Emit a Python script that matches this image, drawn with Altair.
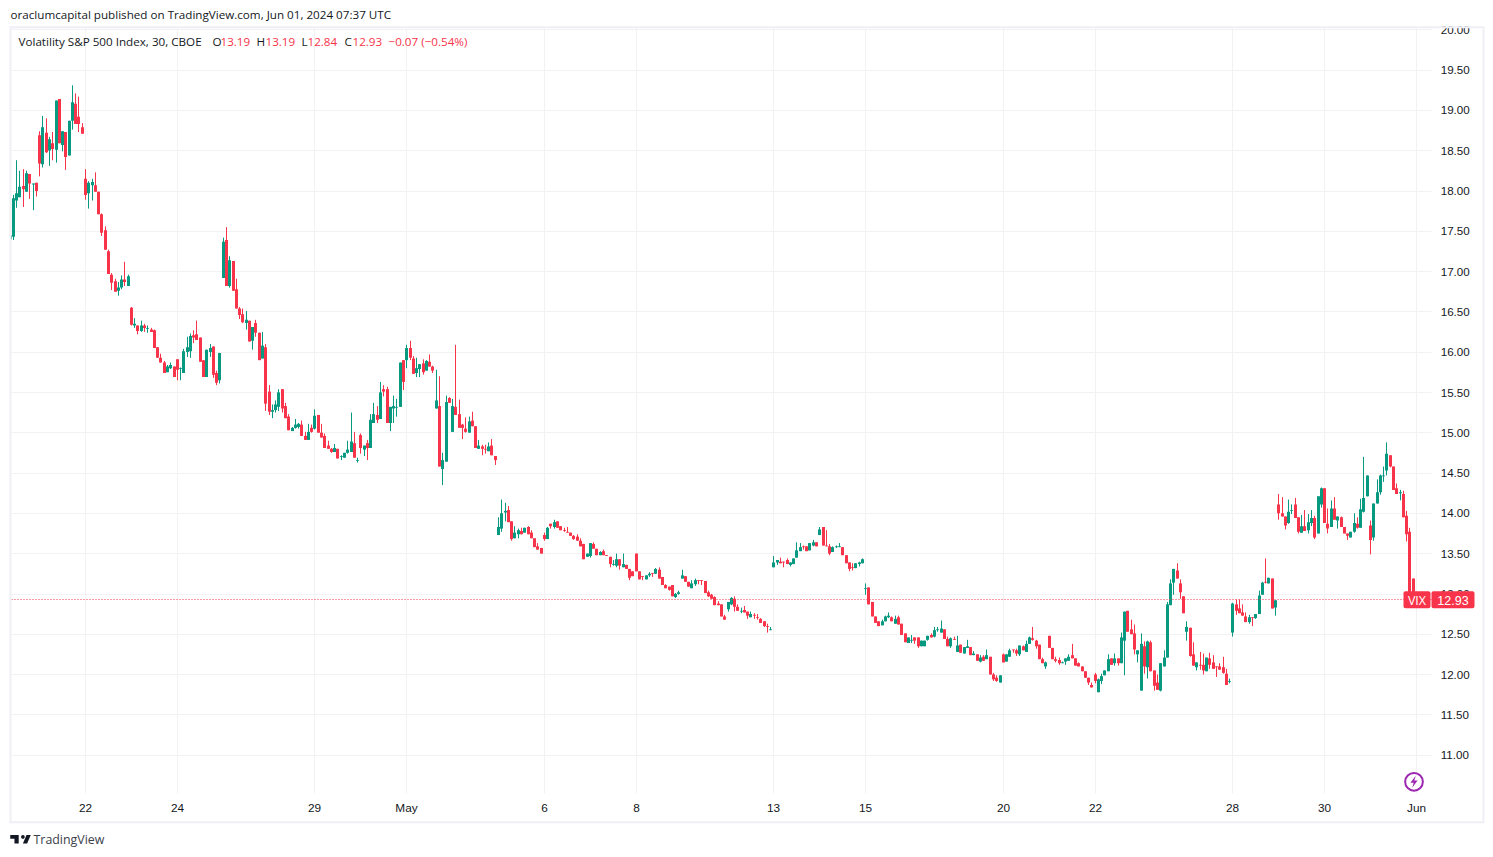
import altair as alt
import pandas as pd

RED = "#f7344a"
GREEN = "#089981"
GRID = "#f2f2f5"
FRAME = "#eff0f5"
TEXT = "#131722"
UI = "Open Sans"
NUM = "Liberation Sans"

# open, high, low, close of each 30-minute bar, one list per session
apr19 = [(17.40,17.53,17.31,17.45),(17.43,17.95,17.39,17.91),(17.88,18.38,17.79,17.97),(17.92,18.25,17.92,18.05),
(18.06,18.27,17.80,18.02),(17.99,18.25,17.99,18.22),(18.21,18.21,17.90,18.09),(18.08,18.09,17.76,18.09),
(18.10,18.10,17.93,18.00),(18.69,18.74,18.18,18.34),(18.33,18.93,18.29,18.79),(18.72,18.90,18.47,18.48),
(18.50,18.67,18.31,18.64),(18.59,18.73,18.38,18.52),(18.51,19.12,18.35,19.12),(19.14,19.14,18.59,18.59),
(18.57,18.74,18.49,18.74),(18.73,18.73,18.26,18.42),(18.44,18.87,18.44,18.87),(18.87,19.31,18.76,19.10),
(19.08,19.21,18.83,18.83),(18.92,19.17,18.73,18.83),(18.79,18.84,18.71,18.71)]
apr22 = [(18.15,18.27,17.89,17.95),(17.97,18.12,17.78,18.10),(18.07,18.15,17.88,18.11),(18.07,18.23,17.99,17.99),
(17.99,17.99,17.71,17.71),(17.71,17.72,17.44,17.48),(17.51,17.56,17.27,17.27),(17.25,17.27,16.97,16.97),
(16.96,16.98,16.77,16.86),(16.88,16.91,16.75,16.75),(16.76,16.87,16.70,16.80),(16.80,16.95,16.78,16.90),
(16.90,17.12,16.82,16.87),(16.82,16.96,16.82,16.94)]
apr23 = [(16.55,16.56,16.33,16.34),(16.33,16.42,16.30,16.35),(16.33,16.33,16.22,16.26),(16.26,16.39,16.25,16.33),
(16.33,16.35,16.25,16.30),(16.29,16.33,16.24,16.30),(16.28,16.30,16.25,16.25),(16.27,16.28,16.05,16.05),
(16.06,16.06,15.93,15.93),(15.93,15.98,15.87,15.87),(15.87,15.89,15.74,15.74),(15.75,15.84,15.75,15.82),
(15.80,15.87,15.79,15.84),(15.82,15.82,15.69,15.69)]
apr24 = [(15.91,15.91,15.65,15.78),(15.79,15.81,15.65,15.80),(15.74,16.04,15.74,16.01),(16.00,16.19,15.94,16.06),
(16.01,16.23,15.93,16.20),(16.21,16.27,16.11,16.18),(16.22,16.39,16.15,16.15),(16.18,16.18,15.88,15.88),
(15.90,15.90,15.69,15.69),(15.69,16.03,15.69,16.03),(16.00,16.10,15.94,16.05),(16.07,16.07,15.68,15.72),
(15.74,15.77,15.59,15.62),(15.65,15.99,15.61,15.99)]
apr25 = [(16.92,17.42,16.92,17.37),(17.39,17.55,16.82,16.82),(16.82,17.19,16.80,17.14),(17.13,17.13,16.76,16.76),
(16.78,16.91,16.54,16.54),(16.54,16.56,16.41,16.46),(16.47,16.54,16.36,16.37),(16.36,16.51,16.28,16.40),
(16.39,16.39,16.13,16.13),(16.14,16.31,16.03,16.31),(16.36,16.40,16.19,16.24),(16.24,16.24,15.90,15.90),
(15.92,16.25,15.92,16.08),(16.06,16.10,15.27,15.36)]
apr26 = [(15.51,15.59,15.22,15.26),(15.26,15.35,15.18,15.28),(15.28,15.40,15.25,15.35),(15.32,15.54,15.27,15.50),
(15.54,15.54,15.25,15.30),(15.33,15.37,15.18,15.18),(15.20,15.23,15.03,15.03),(15.02,15.07,15.02,15.06),
(15.06,15.17,15.05,15.10),(15.07,15.12,15.05,15.11),(15.10,15.15,14.96,14.96),(14.96,15.01,14.91,14.91),
(14.91,15.11,14.91,15.01),(15.06,15.10,15.00,15.01)]
apr29 = [(15.05,15.29,15.04,15.21),(15.22,15.22,15.00,15.00),(15.00,15.11,14.94,14.94),(14.96,14.99,14.81,14.81),
(14.84,14.90,14.80,14.80),(14.80,14.81,14.75,14.76),(14.76,14.86,14.76,14.81),(14.80,14.80,14.68,14.68),
(14.70,14.72,14.66,14.71),(14.69,14.75,14.69,14.75),(14.75,14.90,14.74,14.79),(14.76,15.25,14.76,14.89),
(14.87,15.01,14.69,14.69),(14.65,14.69,14.63,14.66)]
apr30 = [(14.97,14.99,14.74,14.81),(14.79,14.84,14.71,14.84),(14.87,14.91,14.66,14.81),(14.81,15.23,14.81,15.16),
(15.12,15.37,15.12,15.23),(15.22,15.33,15.12,15.16),(15.17,15.63,15.17,15.50),(15.54,15.59,15.45,15.51),
(15.54,15.57,15.12,15.12),(15.12,15.32,15.02,15.32),(15.30,15.46,15.12,15.33),(15.31,15.42,15.20,15.32),
(15.32,15.87,15.32,15.87),(15.90,15.90,15.53,15.63)]
may01 = [(15.90,16.09,15.80,16.05),(16.05,16.14,15.90,15.93),(15.92,15.95,15.73,15.73),(15.74,15.93,15.69,15.80),
(15.79,15.85,15.69,15.85),(15.86,15.91,15.72,15.75),(15.77,15.90,15.77,15.89),(15.88,15.97,15.82,15.82),
(15.82,15.83,15.74,15.77),(15.30,15.78,15.30,15.40),(15.33,15.70,14.58,14.58),(14.55,14.75,14.35,14.66),
(14.64,15.46,14.64,15.38),(15.43,15.44,15.37,15.37)]
may02 = [(15.01,15.42,15.01,15.33),(15.32,16.09,15.22,15.22),(15.23,15.41,15.06,15.06),(15.10,15.11,14.92,15.06),
(15.05,15.19,15.00,15.01),(15.00,15.20,15.00,15.14),(15.15,15.26,15.08,15.08),(15.08,15.08,14.81,14.81),
(14.80,14.91,14.80,14.84),(14.83,14.85,14.72,14.80),(14.80,14.85,14.74,14.79),(14.77,14.88,14.77,14.83),
(14.84,14.92,14.72,14.72),(14.71,14.71,14.60,14.66)]
may03 = [(13.73,13.95,13.73,13.83),(13.81,14.17,13.77,14.00),(14.01,14.13,13.90,14.03),(14.04,14.09,13.89,13.89),
(13.90,13.90,13.66,13.68),(13.69,13.84,13.69,13.76),(13.74,13.81,13.69,13.79),(13.78,13.82,13.74,13.74),
(13.76,13.82,13.76,13.82),(13.83,13.84,13.74,13.74),(13.76,13.79,13.69,13.69),(13.69,13.69,13.58,13.58),
(13.59,13.63,13.55,13.55),(13.57,13.57,13.50,13.50)]
may06 = [(13.73,13.76,13.66,13.68),(13.68,13.83,13.68,13.82),(13.87,13.87,13.81,13.84),(13.83,13.92,13.81,13.89),
(13.90,13.90,13.82,13.82),(13.84,13.84,13.79,13.79),(13.79,13.82,13.77,13.78),(13.77,13.83,13.76,13.76),
(13.76,13.76,13.72,13.72),(13.72,13.73,13.67,13.68),(13.71,13.74,13.66,13.66),(13.66,13.69,13.59,13.59),
(13.62,13.62,13.43,13.43),(13.46,13.50,13.46,13.50)]
may07 = [(13.47,13.63,13.45,13.63),(13.62,13.64,13.56,13.56),(13.56,13.56,13.48,13.48),(13.48,13.53,13.48,13.52),
(13.53,13.55,13.48,13.48),(13.48,13.48,13.47,13.47),(13.46,13.46,13.33,13.37),(13.36,13.42,13.35,13.37),
(13.35,13.50,13.33,13.43),(13.43,13.43,13.30,13.35),(13.33,13.50,13.33,13.37),(13.36,13.36,13.31,13.31),
(13.31,13.31,13.17,13.20),(13.28,13.28,13.22,13.22)]
may08 = [(13.50,13.50,13.28,13.28),(13.28,13.28,13.18,13.18),(13.22,13.22,13.17,13.21),(13.18,13.23,13.18,13.23),
(13.23,13.27,13.21,13.25),(13.26,13.26,13.21,13.25),(13.25,13.32,13.25,13.31),(13.30,13.33,13.19,13.19),
(13.21,13.21,13.11,13.11),(13.11,13.12,13.07,13.07),(13.09,13.09,13.04,13.05),(13.11,13.11,12.97,12.97),
(12.96,13.01,12.95,13.00),(13.00,13.04,12.99,13.02)]
may09 = [(13.19,13.30,13.19,13.23),(13.22,13.22,13.15,13.15),(13.15,13.15,13.09,13.09),(13.07,13.17,13.07,13.13),
(13.12,13.19,13.10,13.17),(13.17,13.17,13.12,13.16),(13.17,13.17,13.11,13.16),(13.16,13.16,13.01,13.01),
(13.02,13.04,12.96,12.97),(12.99,13.00,12.94,12.94),(12.96,12.97,12.86,12.86),(12.88,12.91,12.86,12.86),
(12.87,12.87,12.72,12.72),(12.72,12.74,12.68,12.68)]
may10 = [(12.81,12.90,12.78,12.90),(12.87,12.96,12.86,12.95),(12.94,12.97,12.78,12.84),(12.84,12.87,12.79,12.79),
(12.78,12.83,12.76,12.79),(12.80,12.85,12.77,12.77),(12.78,12.78,12.69,12.73),(12.71,12.78,12.71,12.75),
(12.74,12.76,12.69,12.73),(12.71,12.75,12.68,12.70),(12.69,12.70,12.64,12.64),(12.66,12.66,12.59,12.60),
(12.60,12.63,12.52,12.59),(12.55,12.59,12.55,12.56)]
may13 = [(13.33,13.47,13.33,13.39),(13.39,13.42,13.36,13.42),(13.40,13.45,13.38,13.38),(13.40,13.40,13.33,13.39),
(13.42,13.44,13.37,13.37),(13.36,13.39,13.34,13.39),(13.37,13.44,13.37,13.44),(13.45,13.64,13.45,13.54),
(13.53,13.63,13.53,13.58),(13.59,13.60,13.55,13.58),(13.59,13.59,13.53,13.53),(13.54,13.63,13.54,13.63),
(13.60,13.67,13.59,13.64),(13.64,13.64,13.59,13.59)]
may14 = [(13.73,13.83,13.73,13.80),(13.83,13.83,13.60,13.60),(13.60,13.79,13.59,13.59),(13.59,13.62,13.48,13.50),
(13.52,13.59,13.52,13.58),(13.58,13.60,13.57,13.59),(13.58,13.63,13.58,13.59),(13.58,13.58,13.48,13.48),
(13.48,13.48,13.38,13.38),(13.39,13.39,13.28,13.31),(13.33,13.38,13.29,13.32),(13.32,13.38,13.32,13.38),
(13.37,13.40,13.34,13.39),(13.38,13.44,13.38,13.43)]
may15 = [(13.06,13.13,12.99,13.07),(13.08,13.08,12.87,12.87),(12.90,12.90,12.72,12.72),(12.72,12.72,12.64,12.64),
(12.66,12.66,12.60,12.60),(12.61,12.68,12.61,12.66),(12.66,12.73,12.66,12.72),(12.71,12.77,12.70,12.73),
(12.71,12.72,12.66,12.66),(12.63,12.73,12.63,12.69),(12.71,12.73,12.62,12.62),(12.63,12.63,12.49,12.49),
(12.51,12.51,12.40,12.40),(12.39,12.46,12.39,12.46)]
may16 = [(12.42,12.49,12.39,12.43),(12.46,12.46,12.38,12.42),(12.46,12.46,12.33,12.35),(12.35,12.42,12.35,12.42),
(12.35,12.42,12.35,12.42),(12.43,12.48,12.42,12.48),(12.49,12.51,12.46,12.46),(12.47,12.59,12.46,12.55),
(12.55,12.59,12.53,12.56),(12.52,12.67,12.52,12.57),(12.56,12.56,12.44,12.44),(12.44,12.47,12.35,12.35),
(12.35,12.46,12.33,12.45),(12.44,12.47,12.43,12.43)]
may17 = [(12.28,12.48,12.28,12.36),(12.37,12.37,12.27,12.27),(12.26,12.34,12.26,12.34),(12.33,12.43,12.33,12.35),
(12.34,12.34,12.24,12.24),(12.24,12.29,12.24,12.26),(12.25,12.25,12.17,12.17),(12.16,12.24,12.15,12.21),
(12.22,12.24,12.17,12.17),(12.19,12.31,12.19,12.24),(12.22,12.22,12.00,12.00),(12.00,12.02,11.92,11.94),
(11.96,11.99,11.91,11.92),(11.90,11.99,11.90,11.99)]
may20 = [(12.25,12.26,12.15,12.15),(12.16,12.25,12.16,12.25),(12.22,12.32,12.22,12.30),(12.31,12.31,12.27,12.30),
(12.30,12.32,12.23,12.26),(12.25,12.36,12.23,12.36),(12.35,12.36,12.30,12.30),(12.28,12.42,12.28,12.38),
(12.38,12.47,12.38,12.46),(12.45,12.59,12.42,12.43),(12.42,12.43,12.32,12.35),(12.37,12.37,12.19,12.19),
(12.19,12.21,12.14,12.14),(12.10,12.16,12.07,12.15)]
may21 = [(12.48,12.48,12.33,12.33),(12.33,12.33,12.19,12.19),(12.19,12.22,12.15,12.17),(12.18,12.21,12.12,12.14),
(12.14,12.16,12.14,12.15),(12.16,12.20,12.12,12.20),(12.17,12.25,12.17,12.22),(12.24,12.38,12.20,12.20),
(12.20,12.20,12.11,12.11),(12.14,12.15,12.10,12.10),(12.10,12.10,12.04,12.04),(12.04,12.04,11.96,11.96),
(11.96,11.96,11.87,11.90),(11.87,11.90,11.84,11.84)]
may22 = [(12.00,12.02,11.89,11.92),(11.78,11.95,11.78,11.94),(11.92,12.01,11.88,11.98),(11.99,12.05,11.99,12.05),
(12.04,12.25,12.04,12.19),(12.20,12.20,12.12,12.12),(12.14,12.26,12.11,12.20),(12.20,12.20,12.11,12.14),
(12.14,12.52,12.14,12.46),(12.42,12.78,11.99,12.78),(12.79,12.79,12.53,12.53),(12.56,12.68,12.50,12.50),
(12.51,12.62,12.25,12.31),(12.25,12.30,12.15,12.30)]
may23 = [(11.80,12.51,11.80,12.38),(12.35,12.41,12.01,12.10),(12.09,12.42,11.95,12.41),(12.40,12.42,12.04,12.04),
(12.05,12.05,11.80,11.86),(11.90,12.00,11.81,11.81),(11.80,12.14,11.79,12.14),(12.10,12.30,12.10,12.21),
(12.21,12.90,12.21,12.87),(12.86,13.18,12.86,13.13),(13.14,13.31,12.99,13.31),(13.29,13.38,13.19,13.19),
(13.13,13.18,12.94,13.02),(12.97,12.97,12.76,12.76)]
may24 = [(12.53,12.66,12.42,12.59),(12.58,12.58,12.22,12.23),(12.25,12.40,12.11,12.11),(12.09,12.15,12.05,12.15),
(12.12,12.28,12.06,12.11),(12.12,12.26,12.00,12.05),(12.04,12.21,12.04,12.21),(12.20,12.27,12.07,12.12),
(12.15,12.24,12.07,12.07),(12.10,12.10,11.97,12.09),(12.10,12.14,12.06,12.06),(12.09,12.22,12.01,12.02),
(12.01,12.07,11.87,11.87),(11.91,11.95,11.89,11.92)]
may28 = [(12.52,12.89,12.47,12.88),(12.87,12.93,12.74,12.79),(12.82,12.93,12.76,12.76),(12.77,12.87,12.73,12.73),
(12.72,12.77,12.65,12.65),(12.65,12.74,12.63,12.71),(12.71,12.71,12.60,12.70),(12.70,12.75,12.69,12.75),
(12.75,13.04,12.75,12.98),(12.99,13.15,12.99,13.14),(13.15,13.44,13.13,13.14),(13.13,13.20,13.13,13.20),
(13.19,13.19,12.82,12.82),(12.83,12.92,12.73,12.92)]
may29 = [(14.11,14.24,13.92,14.00),(14.00,14.20,13.96,13.96),(13.96,13.96,13.80,13.85),(13.88,14.17,13.87,14.02),
(14.03,14.11,13.99,14.04),(14.11,14.19,13.94,13.94),(13.95,13.95,13.75,13.77),(13.76,13.98,13.76,13.84),
(13.84,14.04,13.78,13.78),(13.79,13.99,13.75,13.89),(13.88,14.04,13.84,13.94),(13.94,13.97,13.68,13.70),
(13.75,14.21,13.75,14.21),(14.11,14.32,14.07,14.31)]
may30 = [(14.31,14.31,13.88,13.88),(13.87,14.06,13.75,13.81),(13.83,14.16,13.83,14.06),(14.06,14.20,13.92,13.92),
(13.91,13.96,13.81,13.96),(13.95,13.96,13.83,13.83),(13.83,13.83,13.75,13.75),(13.75,13.75,13.67,13.72),
(13.70,13.77,13.70,13.77),(13.77,14.00,13.76,13.88),(13.87,13.95,13.81,13.82),(13.82,14.18,13.82,14.05),
(14.02,14.70,14.01,14.19),(14.21,14.47,14.21,14.47)]
may31 = [(13.85,13.91,13.49,13.67),(13.70,14.12,13.66,14.12),(14.12,14.42,14.12,14.26),(14.26,14.48,14.23,14.47),
(14.46,14.58,14.39,14.47),(14.53,14.88,14.47,14.74),(14.72,14.72,14.57,14.58),(14.58,14.58,14.29,14.29),
(14.31,14.37,14.24,14.24),(14.25,14.29,14.16,14.26),(14.24,14.28,13.95,13.95),(13.97,14.03,13.65,13.74),
(13.77,13.82,12.99,13.00),(13.19,13.19,12.84,12.93)]

sessions = [apr19, apr22, apr23, apr24, apr25, apr26, apr29, apr30, may01, may02, may03, may06, may07, may08, may09,
            may10, may13, may14, may15, may16, may17, may20, may21, may22, may23, may24, may28, may29, may30, may31]

time_ticks = [0, 28, 70, 98, 140, 168, 210, 238, 280, 308, 350, 378, 406]
time_labels = ["22", "24", "29", "May", "6", "8", "13", "15", "20", "22", "28", "30", "Jun"]
price_ticks = [11 + 0.5 * k for k in range(19)]
last_price = 12.93

bars = [b for s in sessions for b in s]
df = pd.DataFrame(bars, columns=["o", "h", "l", "c"])
df["i"] = range(-len(apr19), len(bars) - len(apr19))
df["color"] = [GREEN if c >= o else RED for o, c in zip(df.o, df.c)]

PX_L, PX_T, W, H = 10, 28, 1421, 765
X_SCALE = alt.Scale(domain=[-22.88, 410.6], round=True, nice=False, zero=False)
Y_SCALE = alt.Scale(domain=[10.526, 20.017], nice=False, zero=False)
one = pd.DataFrame({"a": [0]})

label_expr = "[" + ",".join(f"'{t}'" for t in time_labels) + "][indexof([" + ",".join(map(str, time_ticks)) + "], datum.value)]"

x_axis = alt.Axis(values=time_ticks, labelExpr=label_expr, title=None, grid=True, gridColor=GRID, gridWidth=1,
                  domain=False, ticks=False, labelFont=NUM, labelFontSize=11.8, labelColor=TEXT, translate=0,
                  labelPadding=10, labelOverlap=False, labelFlush=False, labelBound=False)
y_axis = alt.Axis(values=price_ticks, format=".2f", title=None, orient="right", grid=True, gridColor=GRID, gridWidth=1,
                  domain=False, ticks=False, labelFont=NUM, labelFontSize=11.6, labelColor=TEXT, translate=0.2,
                  labelPadding=9, labelOffset=1, labelOverlap=False, labelFlush=False, labelBound=False)

wicks = alt.Chart(df).mark_rule(strokeWidth=1, clip=True).encode(
    x=alt.X("i:Q", scale=X_SCALE, axis=x_axis),
    y=alt.Y("h:Q", scale=Y_SCALE, axis=y_axis),
    y2="l:Q",
    color=alt.Color("color:N", scale=None),
)
bodies = alt.Chart(df).mark_rule(strokeWidth=3, clip=True).encode(
    x=alt.X("i:Q", scale=X_SCALE, axis=x_axis),
    y=alt.Y("o:Q", scale=Y_SCALE, axis=y_axis),
    y2="c:Q",
    color=alt.Color("color:N", scale=None),
)
last_line = alt.Chart(pd.DataFrame({"p": [last_price]})).mark_rule(
    color=RED, strokeWidth=1, strokeDash=[1, 2]
).encode(y=alt.Y("p:Q", scale=Y_SCALE, axis=y_axis))


def px(x, y):
    return dict(x=alt.value(x - PX_L), y=alt.value(y - PX_T))


def label(text, x, y, color=TEXT, font=UI, size=11.65, align="left", weight="normal"):
    return alt.Chart(one).mark_text(
        text=text, color=color, font=font, fontSize=size, align=align, baseline="middle", fontWeight=weight
    ).encode(**px(x, y + 0.7))


def box(x1, x2, y1, y2, **kw):
    return alt.Chart(one).mark_rect(**kw).encode(
        x=alt.value(x1 - PX_L), x2=alt.value(x2 - PX_L), y=alt.value(y1 - PX_T), y2=alt.value(y2 - PX_T)
    )


cover = box(1420, 1484, 8, 26, fill="white")
frame = box(10, 1483, 27, 822, fill="transparent", stroke=FRAME, strokeWidth=2)
vix_tag = box(1403, 1430, 591, 608, fill=RED, cornerRadius=2)
price_tag = box(1431, 1474, 591, 608, fill=RED, cornerRadius=2)

BOLT = "M0.3 -1 L-0.6 0.15 L-0.05 0.15 L-0.3 1 L0.6 -0.2 L0.05 -0.2 Z"
LOGO = ("M-0.176 -0.412 L-1 -0.412 L-1 -0.059 L-0.588 -0.059 L-0.588 0.412 L-0.176 0.412 Z "
        "M0.647 0.412 L0.235 0.412 L0.588 -0.412 L1 -0.412 Z "
        "M0.235 -0.059 A0.176 0.176 0 1 0 0.235 -0.412 A0.176 0.176 0 1 0 0.235 -0.059 Z")
ring = alt.Chart(one).mark_point(shape="circle", size=314, stroke="#9c27b0", strokeWidth=2, fill="white", filled=True, opacity=1).encode(**px(1413.5, 781.5))
bolt = alt.Chart(one).mark_point(shape=BOLT, size=144, fill="#9c27b0", strokeWidth=0, filled=True, opacity=1).encode(**px(1413.5, 781.5))
logo = alt.Chart(one).mark_point(shape=LOGO, size=420, fill="#131722", strokeWidth=0, filled=True, opacity=1).encode(**px(20, 839))

layers = [
    wicks, bodies, last_line, cover, frame, vix_tag, price_tag, ring, bolt, logo,
    label("VIX", 1416.5, 600, color="white", align="center", size=12.5),
    label(f"{last_price:.2f}", 1452.5, 600, color="white", align="center", font=NUM, size=12.5),
    label("oraclumcapital published on TradingView.com, Jun 01, 2024 07:37 UTC", 10, 15),
    label("Volatility S&P 500 Index, 30, CBOE", 18, 42),
    label("O", 212, 42), label("13.19", 220, 42, color=RED),
    label("H", 256, 42), label("13.19", 265, 42, color=RED),
    label("L", 301, 42), label("12.84", 307, 42, color=RED),
    label("C", 344, 42), label("12.93", 352, 42, color=RED),
    label("\u22120.07 (\u22120.54%)", 388, 42, color=RED),
    label("TradingView", 33, 839, color="#3a3e4a", size=12.4),
]

chart = alt.layer(*layers).properties(
    width=W, height=H,
    padding={"left": 2.5, "top": 20.3, "right": 53.5, "bottom": 53.7},
    autosize=alt.AutoSizeParams(type="none"),
).configure_view(stroke=None)

chart.save("out.html", embed_options={"renderer": "svg", "actions": False})
